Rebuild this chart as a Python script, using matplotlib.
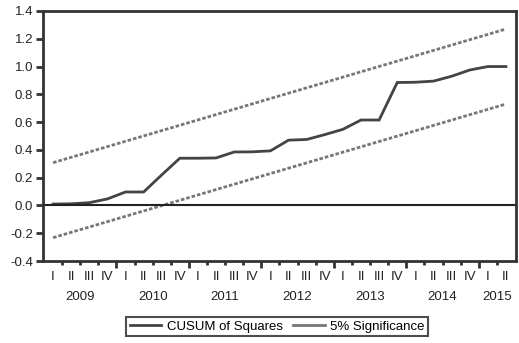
import matplotlib.pyplot as plt
from matplotlib.lines import Line2D

plt.rcParams['font.family'] = ['Liberation Sans', 'DejaVu Sans']

# Quarterly sample 2009Q1 - 2015Q2
years = ['2009', '2010', '2011', '2012', '2013', '2014', '2015']
quarters_per_year = [4, 4, 4, 4, 4, 4, 2]
quarter_names = ['I', 'II', 'III', 'IV']

cusum_sq = [0.010, 0.012, 0.020, 0.047, 0.097, 0.097, 0.220, 0.340, 0.340, 0.342,
            0.385, 0.386, 0.393, 0.470, 0.475, 0.510, 0.548, 0.615, 0.615, 0.885,
            0.887, 0.895, 0.930, 0.975, 1.000, 1.000]

# 5% significance bounds (straight lines, first and last quarter)
bound_idx = [0, 25]
upper_bound = [0.308, 1.270]
lower_bound = [-0.232, 0.730]

n = len(cusum_sq)
x = list(range(n))
fs = 9.5

fig = plt.figure(figsize=(5.19, 3.43), dpi=100)
ax = fig.add_axes([0.083, 0.239, 0.911, 0.729])

ax.plot(x, cusum_sq, color='#444444', lw=2.0, solid_joinstyle='miter')
ax.plot(bound_idx, upper_bound, color='#777777', lw=2.0, ls=(0, (1.3, 0.7)))
ax.plot(bound_idx, lower_bound, color='#777777', lw=2.0, ls=(0, (1.3, 0.7)))
ax.axhline(0.0, color='#222222', lw=1.5)

ax.set_xlim(-0.55, n - 0.45)
ax.set_ylim(-0.4, 1.4)
ax.set_yticks([-0.4, -0.2, 0.0, 0.2, 0.4, 0.6, 0.8, 1.0, 1.2, 1.4])
ax.set_yticklabels(['%.1f' % v for v in ax.get_yticks()])

# ticks sit between quarters, longer ones at year boundaries
year_edges = []
pos = 0
for q in quarters_per_year[:-1]:
    pos += q
    year_edges.append(pos - 0.5)
ax.set_xticks(year_edges)
ax.set_xticks([i + 0.5 for i in range(n - 1) if (i + 0.5) not in year_edges], minor=True)
ax.set_xticklabels([])
ax.tick_params(axis='x', which='major', length=5, width=2, color='#333333', direction='out')
ax.tick_params(axis='x', which='minor', length=3, width=2, color='#333333', direction='out')
ax.tick_params(axis='y', length=5, width=2, color='#333333', labelsize=fs, pad=2,
               labelcolor='#222222')

for sp in ax.spines.values():
    sp.set_linewidth(2)
    sp.set_color('#333333')

trans = ax.get_xaxis_transform()
pos = 0
for yr, q in zip(years, quarters_per_year):
    for k in range(q):
        ax.text(pos + k, -0.065, quarter_names[k], transform=trans,
                ha='center', va='center', fontsize=fs, color='#222222')
    ax.text(pos + (q - 1) / 2, -0.145, yr, transform=trans,
            ha='center', va='center', fontsize=fs, color='#222222')
    pos += q

handles = [Line2D([], [], color='#444444', lw=2),
           Line2D([], [], color='#777777', lw=2)]
leg = fig.legend(handles, ['CUSUM of Squares', '5% Significance'],
                 loc='center', bbox_to_anchor=(0.534, 0.047), ncol=2,
                 fontsize=fs, frameon=True, fancybox=False, handlelength=2.4,
                 handletextpad=0.4, columnspacing=0.8, borderpad=0.25)
leg.get_frame().set_edgecolor('#222222')
leg.get_frame().set_linewidth(1.5)

fig.savefig('out.png', dpi=100)
